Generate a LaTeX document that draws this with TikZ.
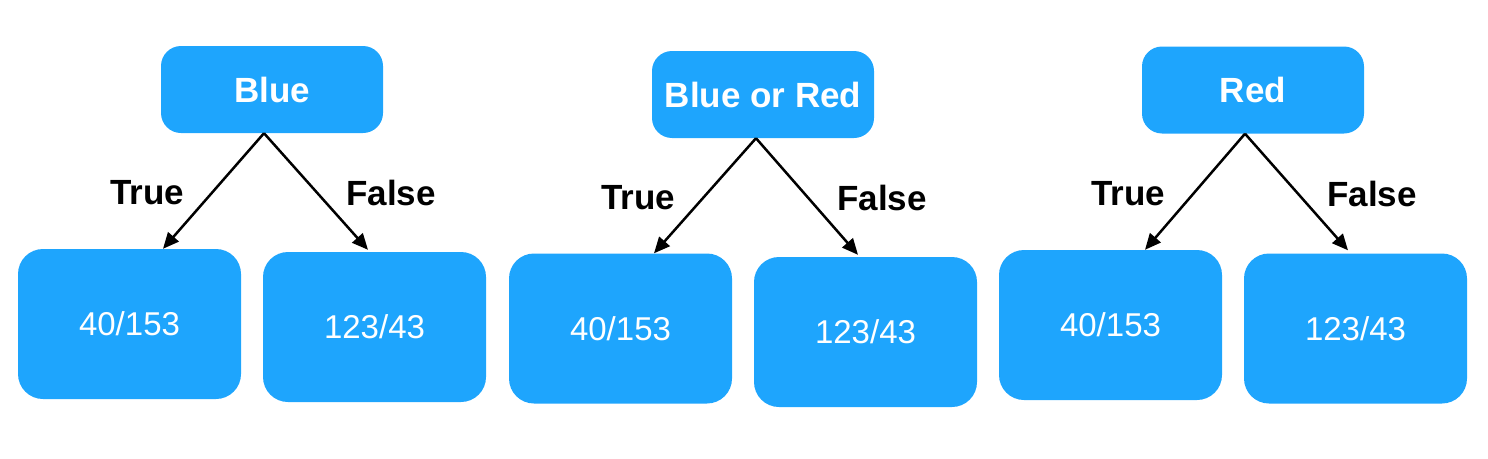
\documentclass[tikz,border=0pt]{standalone}
\usepackage{fontspec}
\setmainfont{Liberation Sans}
\usetikzlibrary{arrows.meta}
\definecolor{boxblue}{RGB}{30,165,253}
\tikzset{
	question/.style={rectangle,rounded corners=20pt,fill=boxblue,text=white,
		font=\fontsize{35}{40}\selectfont\bfseries,
		minimum width=222pt,minimum height=87pt,inner sep=0pt},
	leaf/.style={rectangle,rounded corners=25pt,fill=boxblue,text=white,
		font=\fontsize{33}{38}\selectfont,
		minimum width=223pt,minimum height=150pt,inner sep=0pt},
	branch/.style={font=\fontsize{35}{40}\selectfont\bfseries},
	split/.style={-{Triangle[length=16pt,width=14pt]},line width=2.5pt}
}
\begin{document}
\begin{tikzpicture}[x=1pt,y=-1pt]
\useasboundingbox (0,0) rectangle (1488,458);
% first tree
\node[question] (blue) at (272,89.5) {Blue};
\node[leaf] (blueT) at (129.5,324) {40/153};
\node[leaf] (blueF) at (374.5,327) {123/43};
\draw[split] ([xshift=-8pt]blue.south) -- ([xshift=33.5pt]blueT.north);
\draw[split] ([xshift=-8pt]blue.south) -- ([xshift=-6.5pt,yshift=2pt]blueF.north);
\node[branch] (blueTl) at (147,193) {True};
\node[branch] (blueFl) at (391,193) {False};
% second tree
\node[question] (both) at (763,94.5) {Blue or Red};
\node[leaf] (bothT) at (620.5,328.5) {40/153};
\node[leaf] (bothF) at (865.5,332) {123/43};
\draw[split] ([xshift=-7pt]both.south) -- ([xshift=33.5pt]bothT.north);
\draw[split] ([xshift=-7pt]both.south) -- ([xshift=-7.5pt,yshift=2pt]bothF.north);
\node[branch] (bothTl) at (638,198) {True};
\node[branch] (bothFl) at (882,198) {False};
% third tree
\node[question] (red) at (1253,90) {Red};
\node[leaf] (redT) at (1110.5,325) {40/153};
\node[leaf] (redF) at (1355.5,328.5) {123/43};
\draw[split] ([xshift=-8pt]red.south) -- ([xshift=34.5pt]redT.north);
\draw[split] ([xshift=-8pt]red.south) -- ([xshift=-7.5pt,yshift=3pt]redF.north);
\node[branch] (redTl) at (1128,194) {True};
\node[branch] (redFl) at (1372,194) {False};
\end{tikzpicture}
\end{document}
